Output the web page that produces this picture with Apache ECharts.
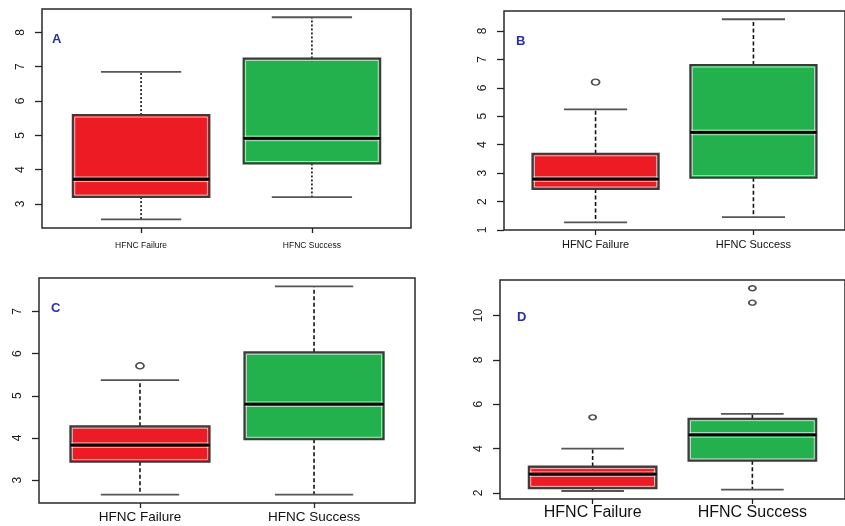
<!DOCTYPE html>
<html>
<head>
<meta charset="utf-8">
<script src="https://cdn.jsdelivr.net/npm/echarts@6/dist/echarts.min.js"></script>
<style>html,body{margin:0;padding:0;background:#fff}#c{width:845px;height:526px}</style>
</head>
<body>
<div id="c"></div>
<script>
// ---- data ----
const categories = ['HFNC Failure', 'HFNC Success'];
// five-number summaries: [lower whisker, Q1, median, Q3, upper whisker]
const aFailure = [2.55, 3.20, 3.72, 5.59, 6.85];
const aSuccess = [3.20, 4.18, 4.91, 7.24, 8.44];
const aFailureOut = [];
const aSuccessOut = [];
const aTicks = [3, 4, 5, 6, 7, 8];

const bFailure = [1.27, 2.44, 2.79, 3.68, 5.24];
const bSuccess = [1.45, 2.84, 4.43, 6.80, 8.41];
const bFailureOut = [6.20];
const bSuccessOut = [];
const bTicks = [1, 2, 3, 4, 5, 6, 7, 8];

const cFailure = [2.66, 3.44, 3.83, 4.28, 5.37];
const cSuccess = [2.66, 3.97, 4.80, 6.03, 7.59];
const cFailureOut = [5.71];
const cSuccessOut = [];
const cTicks = [3, 4, 5, 6, 7];

const dFailure = [2.09, 2.21, 2.85, 3.19, 4.00];
const dSuccess = [2.15, 3.45, 4.62, 5.35, 5.57];
const dFailureOut = [5.41];
const dSuccessOut = [10.58, 11.23];
const dTicks = [2, 4, 6, 8, 10];

const panelLetters = ['A', 'B', 'C', 'D'];

// ---- layout / style ----
const RED = '#ED1C24', GREEN = '#22B14C';
const panels = [
  {letter: panelLetters[0], fail: aFailure, succ: aSuccess, fOut: aFailureOut, sOut: aSuccessOut, ticks: aTicks,
   grid: {left: 42, top: 9, right: 434, bottom: 298}, y: [2.30, 8.68], xFont: 8.5, xMargin: 13,
   cap: 0.235, dash: [2, 2], sym: [8, 6], letterPos: [52, 33]},
  {letter: panelLetters[1], fail: bFailure, succ: bSuccess, fOut: bFailureOut, sOut: bSuccessOut, ticks: bTicks,
   grid: {left: 504, top: 11, right: -6, bottom: 296}, y: [1.0, 8.70], xFont: 11, xMargin: 9,
   cap: 0.2, dash: [4, 2.5], sym: [8, 6], letterPos: [516, 35]},
  {letter: panelLetters[2], fail: cFailure, succ: cSuccess, fOut: cFailureOut, sOut: cSuccessOut, ticks: cTicks,
   grid: {left: 39, top: 278, right: 430, bottom: 23}, y: [2.46, 7.79], xFont: 13.5, xMargin: 7,
   cap: 0.225, dash: [4, 2.5], sym: [8, 6], letterPos: [51, 302]},
  {letter: panelLetters[3], fail: dFailure, succ: dSuccess, fOut: dFailureOut, sOut: dSuccessOut, ticks: dTicks,
   grid: {left: 500, top: 280, right: -7, bottom: 27}, y: [1.73, 11.6], xFont: 16, xMargin: 6,
   cap: 0.196, dash: [4, 2.5], sym: [7, 5], letterPos: [517, 311]}
];

const grids = [], xAxes = [], yAxes = [], series = [], graphics = [];
const BOX_HW = 0.4;

panels.forEach((p, i) => {
  grids.push(Object.assign({show: true, borderColor: '#2a2a2a', borderWidth: 1.5, backgroundColor: '#fff', containLabel: false}, p.grid));
  xAxes.push({
    type: 'value', gridIndex: i, min: 0.42, max: 2.58,
    axisLine: {show: false}, splitLine: {show: false},
    axisTick: {show: true, customValues: [1, 2], length: 5, lineStyle: {color: '#222', width: 1.3}},
    axisLabel: {show: true, customValues: [1, 2], margin: p.xMargin, fontSize: p.xFont, color: '#111',
      fontFamily: 'Liberation Sans, Arial, sans-serif',
      formatter: v => categories[Math.round(v) - 1] || ''}
  });
  yAxes.push({
    type: 'value', gridIndex: i, min: p.y[0], max: p.y[1],
    axisLine: {show: false}, splitLine: {show: false},
    axisTick: {show: true, customValues: p.ticks, length: 7, lineStyle: {color: '#222', width: 1.3}},
    axisLabel: {show: true, customValues: p.ticks, rotate: 90, margin: 15, fontSize: 12, color: '#1a1a1a',
      fontFamily: 'Liberation Sans, Arial, sans-serif'}
  });
  const boxData = [[1].concat(p.fail), [2].concat(p.succ)];
  const fills = [RED, GREEN];
  series.push({
    type: 'custom', xAxisIndex: i, yAxisIndex: i, data: boxData, clip: false,
    renderItem: function (params, api) {
      const x = api.value(0);
      const low = api.value(1), q1 = api.value(2), med = api.value(3), q3 = api.value(4), high = api.value(5);
      const tl = api.coord([x - BOX_HW, q3]);
      const br = api.coord([x + BOX_HW, q1]);
      const cx = api.coord([x, med])[0];
      const yLow = api.coord([x, low])[1], yHigh = api.coord([x, high])[1];
      const yMed = api.coord([x, med])[1];
      const capL = api.coord([x - p.cap, low])[0], capR = api.coord([x + p.cap, low])[0];
      const children = [];
      // whiskers
      children.push({type: 'line', shape: {x1: cx, y1: tl[1], x2: cx, y2: yHigh},
        style: {stroke: '#111', lineWidth: 1.6, lineDash: p.dash}});
      children.push({type: 'line', shape: {x1: cx, y1: br[1], x2: cx, y2: yLow},
        style: {stroke: '#111', lineWidth: 1.6, lineDash: p.dash}});
      // caps
      children.push({type: 'line', shape: {x1: capL, y1: yHigh, x2: capR, y2: yHigh},
        style: {stroke: '#555', lineWidth: 1.8}});
      children.push({type: 'line', shape: {x1: capL, y1: yLow, x2: capR, y2: yLow},
        style: {stroke: '#555', lineWidth: 1.8}});
      // box
      children.push({type: 'rect', shape: {x: tl[0], y: tl[1], width: br[0] - tl[0], height: br[1] - tl[1]},
        style: {fill: fills[params.dataIndex], stroke: '#3a3a3a', lineWidth: 2}});
      children.push({type: 'rect', shape: {x: tl[0] + 2, y: tl[1] + 2, width: br[0] - tl[0] - 4, height: br[1] - tl[1] - 4},
        style: {fill: 'none', stroke: 'rgba(235,235,235,0.75)', lineWidth: 1}});
      // median
      children.push({type: 'line', shape: {x1: tl[0] + 1, y1: yMed - 2.3, x2: br[0] - 1, y2: yMed - 2.3},
        style: {stroke: 'rgba(240,240,240,0.7)', lineWidth: 1}});
      children.push({type: 'line', shape: {x1: tl[0] + 1, y1: yMed + 2.3, x2: br[0] - 1, y2: yMed + 2.3},
        style: {stroke: 'rgba(240,240,240,0.7)', lineWidth: 1}});
      children.push({type: 'line', shape: {x1: tl[0], y1: yMed, x2: br[0], y2: yMed},
        style: {stroke: '#000', lineWidth: 2.8}});
      return {type: 'group', children: children};
    }
  });
  const outData = p.fOut.map(v => [1, v]).concat(p.sOut.map(v => [2, v]));
  series.push({
    type: 'scatter', xAxisIndex: i, yAxisIndex: i, data: outData, symbol: 'circle', symbolSize: p.sym,
    itemStyle: {color: 'rgba(255,255,255,0)', borderColor: '#222', borderWidth: 1.6}, silent: true
  });
  graphics.push({type: 'text', left: p.letterPos[0], top: p.letterPos[1],
    style: {text: p.letter, fill: '#2b2ea8', font: 'bold 13px Liberation Sans, Arial, sans-serif'}});
});

const chart = echarts.init(document.getElementById('c'), null, {renderer: 'canvas'});
chart.setOption({
  animation: false,
  backgroundColor: '#fff',
  grid: grids, xAxis: xAxes, yAxis: yAxes, series: series, graphic: graphics
});
</script>
</body>
</html>
